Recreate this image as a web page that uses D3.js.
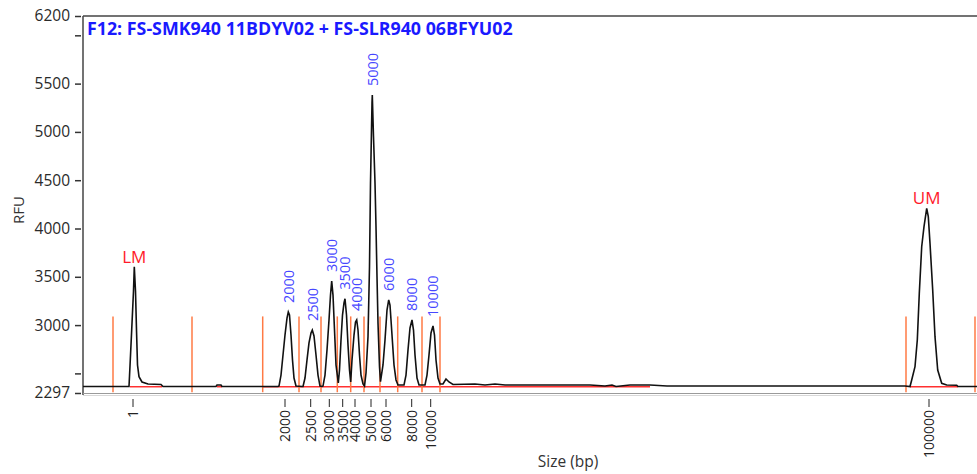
<!DOCTYPE html>
<html><head><meta charset="utf-8">
<script src="https://cdn.jsdelivr.net/npm/d3@7"></script>
<style>body{margin:0;background:#fff}svg{display:block}text{font-family:"Open Sans",sans-serif}</style>
</head><body><svg id="c" width="977" height="474"></svg>
<script>
const title = "F12: FS-SMK940 11BDYV02 + FS-SLR940 06BFYU02";
const yTicks = [2297, 2500, 3000, 3500, 4000, 4500, 5000, 5500, 6000, 6200];
const yTickLabels = ["2297", "", "3000", "3500", "4000", "4500", "5000", "5500", "", "6200"];
const sizeTicks = ["1","2000","2500","3000","3500","4000","5000","6000","8000","10000","100000"];
const sizeTickTimes = [50, 202, 227.7, 246.3, 259.7, 272, 288, 303, 328.7, 347.7, 846];
const peakNames = ["2000","2500","3000","3500","4000","5000","6000","8000","10000"];
const peakTimes = [205.3, 229.3, 248.7, 262, 273.7, 289.3, 305.7, 329, 350];
const peakRFU = [3135, 2949, 3456, 3273, 3053, 5382, 3260, 3053, 2991];
const markerNames = ["LM", "UM"];
const markerTimes = [51.3, 843.7];
const markerRFU = [3604, 4209];
const windowTimes = [30, 109, 179.7, 216, 238, 254.3, 267.7, 281, 297, 314.7, 339, 357, 823, 892];
const windowTop = 3090;
const windowBottom = 2305;
const baselineStart = [47, 134, 179, 827];
const baselineEnd = [79, 139, 567, 875];
const baselineRFU = 2362;
const traceTime = [0,46,47,48.7,50.5,51.3,52.5,53.5,54.5,56,59,65,78,80,133,134,138,139,195,
 196,198,200,202,204,205.3,206.5,208,209.5,211,213,219,
 220,222,224,226,228,229.3,231,233,235,237,239,
 240,242,244,246,247.5,248.7,250,251.5,253,255.3,
 256.5,258,259.5,261,262,263.5,265,266.5,267.7,
 269,271,272.5,273.7,275,276.5,278,280,281.5,
 283,285,286.5,287.5,289,289.3,290.5,292,293,294,295,296.5,297.5,
 300,302,304,305.7,307,309,311,313,315,
 321,323,325,327,329,330.5,332,334,336,
 342,344,346,348,350,351.5,353,355,357,360,363,366,370,
 392,402,412,422,507,522,529,533,547,567,584,822,
 827,828.7,832,834.3,836.3,838.7,841,843.7,845.3,847,849.7,852,854.7,858.7,863.7,873.7,875,894];
const traceRFU = [2364,2364,2577,2949,3353,3604,3353,2949,2587,2466,2411,2390,2385,2364,2364,2380,2380,2364,2364,
 2369,2483,2690,2897,3073,3135,3104,2897,2639,2452,2369,2364,
 2364,2452,2639,2815,2918,2949,2887,2690,2483,2369,2364,
 2369,2483,2742,3053,3311,3456,3311,2949,2587,2401,
 2535,2846,3104,3229,3273,3104,2794,2535,2411,
 2639,2897,3032,3053,2949,2690,2483,2390,2369,
 2504,2880,3604,4471,5299,5382,4950,4471,4019,3501,3022,2569,2414,
 2587,2846,3156,3260,3208,2897,2587,2432,2380,
 2380,2483,2742,2970,3053,2949,2690,2452,2380,
 2380,2483,2690,2918,2991,2897,2639,2452,2390,2390,2442,2411,2385,
 2390,2380,2390,2380,2380,2369,2380,2364,2380,2380,2370,2370,
 2364,2432,2569,2846,3329,3811,4019,4209,4122,3847,3363,2880,2535,2397,2380,2377,2364,2364];

const svg = d3.select("#c");
const L = 83, R = 977, T = 16, B = 393;
const x = d3.scaleLinear().domain([0, 894]).range([L, R]);
const y = d3.scaleLinear().domain([2297, 6200]).range([B, T]);

// frame
svg.append("line").attr("x1", L).attr("x2", R).attr("y1", T).attr("y2", T).attr("stroke", "#444").attr("stroke-width", 1.5);
svg.append("line").attr("x1", L).attr("x2", L).attr("y1", T).attr("y2", B + 2).attr("stroke", "#444").attr("stroke-width", 1.5);
svg.append("line").attr("x1", L).attr("x2", R).attr("y1", B + 0.5).attr("y2", B + 0.5).attr("stroke", "#9a9a9a").attr("stroke-width", 1);
svg.append("line").attr("x1", L).attr("x2", R).attr("y1", B + 2.5).attr("y2", B + 2.5).attr("stroke", "#d8d8d8").attr("stroke-width", 1);

// y axis
const yAxis = d3.axisLeft(y).tickValues(yTicks).tickSize(6).tickPadding(5)
  .tickFormat((d, i) => yTickLabels[i]);
const gy = svg.append("g").attr("transform", `translate(${L - 2},0)`).call(yAxis);
gy.select(".domain").remove();
gy.selectAll(".tick line").attr("stroke", "#333").attr("stroke-width", 1.5);
gy.selectAll(".tick text").attr("font-size", 15.5).attr("fill", "#2a2a2a").attr("font-family", "Open Sans");

svg.append("text").attr("transform", "translate(24,210) rotate(-90)")
  .attr("text-anchor", "middle").attr("font-size", 15).attr("fill", "#333").text("RFU");

// x axis ticks (size labels)
const gx = svg.append("g");
sizeTicks.forEach((s, i) => {
  const px = x(sizeTickTimes[i]);
  gx.append("line").attr("x1", px).attr("x2", px).attr("y1", 399).attr("y2", 407).attr("stroke", "#222").attr("stroke-width", 1);
  gx.append("text").attr("transform", `translate(${px},410) rotate(-90)`)
    .attr("text-anchor", "end").attr("dy", "0.36em").attr("font-size", 14).attr("fill", "#222").text(s);
});
svg.append("text").attr("x", 568).attr("y", 467).attr("text-anchor", "middle")
  .attr("font-size", 15.5).attr("fill", "#333").text("Size (bp)");

// red baseline segments
baselineStart.forEach((s, i) => {
  svg.append("line").attr("x1", x(s)).attr("x2", x(baselineEnd[i]))
    .attr("y1", y(baselineRFU)).attr("y2", y(baselineRFU)).attr("stroke", "#ff3030").attr("stroke-width", 1.5);
});

// peak windows
svg.append("g").selectAll("line").data(windowTimes).join("line")
  .attr("x1", d => x(d)).attr("x2", d => x(d))
  .attr("y1", y(windowTop)).attr("y2", y(windowBottom))
  .attr("stroke", "#ff7a45").attr("stroke-width", 1.5);

// trace
const pts = traceTime.map((t, i) => [t, traceRFU[i]]);
svg.append("path").datum(pts)
  .attr("d", d3.line().x(d => x(d[0])).y(d => y(d[1])))
  .attr("fill", "none").attr("stroke", "#111").attr("stroke-width", 1.6);

// peak labels
peakNames.forEach((n, i) => {
  svg.append("text").attr("transform", `translate(${x(peakTimes[i])},${y(peakRFU[i]) - 9}) rotate(-90)`)
    .attr("text-anchor", "start").attr("dy", "0.36em").attr("font-size", 14.5).attr("fill", "#4747ff").text(n);
});
markerNames.forEach((n, i) => {
  svg.append("text").attr("x", x(markerTimes[i])).attr("y", y(markerRFU[i]) - 4)
    .attr("text-anchor", "middle").attr("font-size", 17).attr("fill", "#ff1a2a").text(n);
});

// title
const tt = svg.append("text").attr("x", 87).attr("y", 35).attr("font-size", 16)
  .attr("font-weight", "bold").attr("fill", "#1a1aff").text(title);
const len = tt.node().getComputedTextLength();
tt.attr("font-size", 16 * 426 / len);
</script></body></html>
